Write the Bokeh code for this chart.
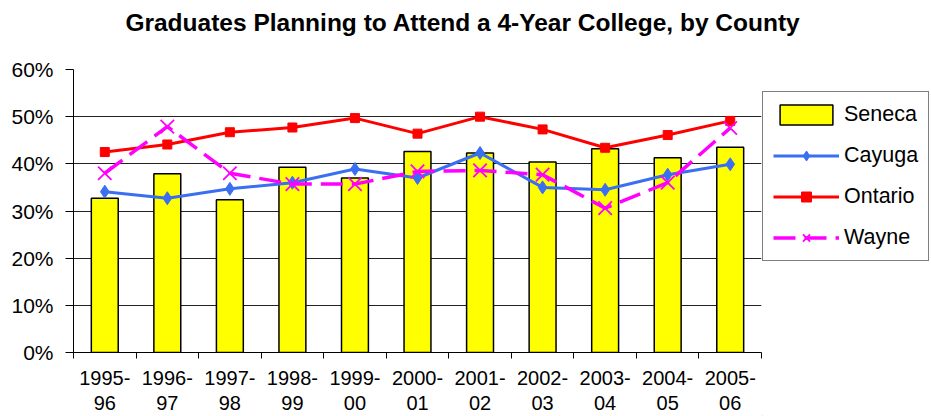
from bokeh.plotting import figure
from bokeh.layouts import row, column
from bokeh.models import (Range1d, LinearAxis, FixedTicker, PrintfTickFormatter,
                          Legend, LegendItem, ColumnDataSource, Label)
from bokeh.embed import file_html
from bokeh.resources import INLINE

# ---- data ----
title_text = "Graduates Planning to Attend a 4-Year College, by County"
years = ["1995-96", "1996-97", "1997-98", "1998-99", "1999-00", "2000-01",
         "2001-02", "2002-03", "2003-04", "2004-05", "2005-06"]
tick_labels = ["1995-\n96", "1996-\n97", "1997-\n98", "1998-\n99", "1999-\n00", "2000-\n01",
               "2001-\n02", "2002-\n03", "2003-\n04", "2004-\n05", "2005-\n06"]
seneca = [32.7, 37.9, 32.4, 39.3, 37.0, 42.6, 42.3, 40.4, 43.2, 41.3, 43.5]
cayuga = [34.1, 32.7, 34.7, 36.0, 38.9, 37.0, 42.3, 35.0, 34.5, 37.7, 39.9]
ontario = [42.5, 44.1, 46.7, 47.7, 49.7, 46.4, 50.0, 47.3, 43.4, 46.1, 49.1]
wayne = [38.0, 47.9, 38.0, 35.7, 35.7, 38.4, 38.6, 37.7, 30.6, 36.0, 47.6]
series_names = ["Seneca", "Cayuga", "Ontario", "Wayne"]
y_ticks = [0, 10, 20, 30, 40, 50, 60]

FONT = "Liberation Sans"
YELLOW, BLUE, RED, MAGENTA = "#FFFF00", "#3B6FF2", "#FF0000", "#FF00FF"
TITLE_H = 45

def bare(fig):
    fig.outline_line_color = None
    fig.background_fill_color = "white"
    fig.border_fill_color = "white"

# ---- title strip ----
t = figure(width=931, height=TITLE_H, output_backend="svg", toolbar_location=None,
           x_range=Range1d(0, 931), y_range=Range1d(0, TITLE_H),
           x_axis_location=None, y_axis_location=None, frame_align=False,
           min_border_left=0, min_border_right=0, min_border_top=0, min_border_bottom=0)
bare(t)
t.xgrid.grid_line_color = None
t.ygrid.grid_line_color = None
t.add_layout(Label(x=462.5, y=TITLE_H - 22, text=title_text, text_align="center",
                   text_baseline="middle", text_font=FONT, text_font_size="24.5px",
                   text_font_style="bold", text_color="black"))

# ---- main plot ----
n = len(years)
centers = [i + 0.5 for i in range(n)]          # category slot centers
src = ColumnDataSource(dict(x=centers, year=years, seneca=seneca, cayuga=cayuga,
                            ontario=ontario, wayne=wayne))

p = figure(width=762, height=416 - TITLE_H, output_backend="svg", toolbar_location=None,
           x_range=Range1d(0, n), y_range=Range1d(0, 60), x_axis_location=None,
           frame_align=False,
           min_border_left=73, min_border_right=1, min_border_top=24, min_border_bottom=63)
bare(p)

yax = p.yaxis[0]
yax.ticker = FixedTicker(ticks=y_ticks)
yax.formatter = PrintfTickFormatter(format="%d%%")
yax.major_tick_out = 8
yax.major_tick_in = 0
yax.minor_tick_out = 0
yax.minor_tick_in = 0
yax.axis_line_color = "black"
yax.major_tick_line_color = "black"
yax.major_label_text_font = FONT
yax.major_label_text_font_size = "21px"
yax.major_label_text_color = "black"
yax.major_label_standoff = 12

p.ygrid.ticker = FixedTicker(ticks=y_ticks)
p.ygrid.grid_line_color = "#222222"
p.ygrid.grid_line_width = 1
p.xgrid.grid_line_color = None

# x axis: labels at slot centers, ticks at slot boundaries
xax = LinearAxis(ticker=FixedTicker(ticks=centers, minor_ticks=list(range(n + 1))))
xax.major_label_overrides = {c: lab for c, lab in zip(centers, tick_labels)}
xax.major_tick_out = 0
xax.major_tick_in = 0
xax.minor_tick_out = 6
xax.minor_tick_in = 0
xax.minor_tick_line_color = "black"
xax.axis_line_color = "black"
xax.major_label_text_font = FONT
xax.major_label_text_font_size = "20px"
xax.major_label_text_color = "black"
xax.major_label_text_line_height = 1.15
xax.major_label_standoff = 8
p.add_layout(xax, "below")

p.vbar(x="x", top="seneca", width=0.43, source=src, fill_color=YELLOW,
       line_color="black", line_width=1.5)
p.line("x", "cayuga", source=src, line_color=BLUE, line_width=3)
p.scatter("x", "cayuga", source=src, marker="diamond", size=13,
          fill_color=BLUE, line_color=BLUE)
p.line("x", "ontario", source=src, line_color=RED, line_width=3)
p.scatter("x", "ontario", source=src, marker="square", size=9,
          fill_color=RED, line_color=RED)
p.line("x", "wayne", source=src, line_color=MAGENTA, line_width=3.5, line_dash="22 9")
p.scatter("x", "wayne", source=src, marker="x", size=19, line_color=MAGENTA, line_width=1.8)

# ---- legend panel (separate figure to the right of the plot area) ----
q = figure(width=169, height=416 - TITLE_H, output_backend="svg", toolbar_location=None,
           x_range=Range1d(0, 1), y_range=Range1d(0, 1),
           x_axis_location=None, y_axis_location=None, frame_align=False,
           min_border_left=0, min_border_right=0, min_border_top=0, min_border_bottom=0)
bare(q)
q.xgrid.grid_line_color = None
q.ygrid.grid_line_color = None
# legend-only glyphs (their single point lies outside the visible range)
off = dict(x=[-5, -4], y=[-5, -5])
l_sen = q.vbar(x=[-5], top=[-5], bottom=[-6], width=0.4, fill_color=YELLOW,
               line_color="black", line_width=1.5)
l_cay = [q.line(x=off["x"], y=off["y"], line_color=BLUE, line_width=3),
         q.scatter(x=[-5], y=[-5], marker="diamond", size=13, fill_color=BLUE, line_color=BLUE)]
l_ont = [q.line(x=off["x"], y=off["y"], line_color=RED, line_width=3),
         q.scatter(x=[-5], y=[-5], marker="square", size=9, fill_color=RED, line_color=RED)]
l_way = [q.line(x=off["x"], y=off["y"], line_color=MAGENTA, line_width=3.5, line_dash="22 9"),
         q.scatter(x=[-5], y=[-5], marker="x", size=19, line_color=MAGENTA, line_width=1.8)]

legend = Legend(items=[
    LegendItem(label=series_names[0], renderers=[l_sen]),
    LegendItem(label=series_names[1], renderers=l_cay),
    LegendItem(label=series_names[2], renderers=l_ont),
    LegendItem(label=series_names[3], renderers=l_way),
], location=(0, 155))
legend.border_line_color = "black"
legend.border_line_width = 1
legend.background_fill_color = "white"
legend.background_fill_alpha = 1
legend.glyph_width = 66
legend.glyph_height = 25
legend.label_height = 25
legend.spacing = 16
legend.padding = 10
legend.label_standoff = 5
legend.margin = 0
legend.label_text_font = FONT
legend.label_text_font_size = "21.5px"
legend.label_text_color = "black"
q.add_layout(legend, "center")

layout = column(t, row(p, q, spacing=0), spacing=0)
open("out.html", "w").write(file_html(layout, INLINE))
